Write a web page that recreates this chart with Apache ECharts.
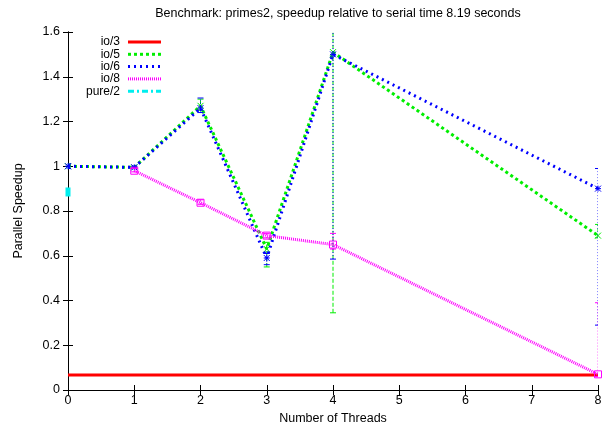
<!DOCTYPE html>
<html>
<head>
<meta charset="utf-8">
<script src="https://cdn.jsdelivr.net/npm/echarts@6/dist/echarts.min.js"></script>
<style>
  html, body { margin: 0; padding: 0; background: #fff; }
  #chart { width: 606px; height: 425px; }
</style>
</head>
<body>
<div id="chart"></div>
<script>
// Thread counts measured
const threads = [0, 1, 2, 3, 4, 8];
const threads8 = [1, 2, 3, 4, 8];

// Speedup per configuration (mean) with low/high error range
const io3 = [0.067, 0.067, 0.067, 0.067, 0.067, 0.067];

const io5 = [1.0, 0.995, 1.27, 0.63, 1.51, 0.69];
const io5Low = [0.99, 0.99, 1.25, 0.55, 0.345, 0.68];
const io5High = [1.01, 1.0, 1.30, 0.66, 1.65, 0.74];

const io6 = [1.0, 0.995, 1.26, 0.59, 1.50, 0.90];
const io6Low = [0.99, 0.99, 1.24, 0.56, 0.585, 0.29];
const io6High = [1.01, 1.0, 1.305, 0.61, 1.65, 0.99];

const io8 = [0.98, 0.837, 0.69, 0.65, 0.07];
const io8Low = [0.975, 0.83, 0.68, 0.63, 0.06];
const io8High = [0.99, 0.85, 0.70, 0.70, 0.39];

const pureThreads = [0];
const pure2 = [0.885];

const xTicks = [0, 1, 2, 3, 4, 5, 6, 7, 8];
const yTicks = [0, 0.2, 0.4, 0.6, 0.8, 1, 1.2, 1.4, 1.6];

const FONT = 'Liberation Sans, Arial, sans-serif';
const FS = 12.5;

const styles = {
  'io/3':   { color: '#ff0000', dash: 'solid',      width: 3 },
  'io/5':   { color: '#00ee00', dash: [3, 3],       width: 3 },
  'io/6':   { color: '#0000ff', dash: [2, 4],       width: 3 },
  'io/8':   { color: '#ff00ff', dash: [1, 1],       width: 3 },
  'pure/2': { color: '#00eeee', dash: [6, 3, 2, 3], width: 3 }
};

function pairs(xs, ys) { return xs.map((x, i) => [x, ys[i]]); }

const crossPath = 'path://M0,0L10,10M10,0L0,10';
const starPath = 'path://M0,0L10,10M10,0L0,10M5,0L5,10M0,5L10,5';

function lineSeries(name, xs, ys, symbol, symbolSize, z) {
  const s = styles[name];
  const hollow = symbol !== 'rect' || name === 'io/8';
  return {
    name, type: 'line', data: pairs(xs, ys), z,
    symbol, symbolSize,
    showSymbol: symbol !== 'none',
    lineStyle: { color: s.color, width: s.width, type: s.dash },
    itemStyle: hollow
      ? { color: 'rgba(0,0,0,0)', borderColor: s.color, borderWidth: 1 }
      : { color: s.color, borderWidth: 0 },
    emphasis: { disabled: true },
    animation: false
  };
}

function errorSeries(name, xs, low, high, z) {
  const s = styles[name];
  return {
    type: 'custom', z, clip: true, animation: false, silent: true,
    data: xs.map((t, i) => [t, low[i], high[i]]),
    encode: { x: 0, y: [1, 2] },
    renderItem(params, api) {
      const lo = api.coord([api.value(0), api.value(1)]);
      const hi = api.coord([api.value(0), api.value(2)]);
      const hw = 3;
      const style = { stroke: s.color, lineWidth: 1, lineDash: name === 'io/5' ? [4, 2] : [1, 2] };
      return {
        type: 'group',
        children: [
          { type: 'line', shape: { x1: lo[0], y1: lo[1], x2: hi[0], y2: hi[1] }, style },
          { type: 'line', shape: { x1: lo[0] - hw, y1: lo[1], x2: lo[0] + hw, y2: lo[1] }, style: { stroke: s.color, lineWidth: 1 } },
          { type: 'line', shape: { x1: hi[0] - hw, y1: hi[1], x2: hi[0] + hw, y2: hi[1] }, style: { stroke: s.color, lineWidth: 1 } }
        ]
      };
    }
  };
}

// Key drawn in the top-left corner of the plot: right-aligned labels, line samples
const legendNames = ['io/3', 'io/5', 'io/6', 'io/8', 'pure/2'];
const legendGraphics = [];
legendNames.forEach((n, i) => {
  const y = 42 + i * 12.3;
  const s = styles[n];
  legendGraphics.push({
    type: 'text', x: 120, y: y,
    style: { text: n, font: '12px ' + FONT, fill: '#000', textAlign: 'right', textVerticalAlign: 'middle' }
  });
  legendGraphics.push({
    type: 'line', shape: { x1: 128, y1: y, x2: 161, y2: y },
    style: { stroke: s.color, lineWidth: s.width, lineDash: s.dash === 'solid' ? null : s.dash }
  });
});

const axisCommon = {
  type: 'value', min: 0,
  axisLine: { show: true, lineStyle: { color: '#000', width: 1 } },
  axisTick: { show: true, inside: true, length: 5, lineStyle: { color: '#000' } },
  splitLine: { show: false }
};

const chart = echarts.init(document.getElementById('chart'), null, { renderer: 'canvas' });
chart.setOption({
  backgroundColor: '#fff',
  animation: false,
  textStyle: { fontFamily: FONT },
  title: {
    text: 'Benchmark: primes2, speedup relative to serial time 8.19 seconds',
    left: 333, top: 2, textAlign: 'center',
    textStyle: { fontSize: FS, fontWeight: 'normal', color: '#000', fontFamily: FONT }
  },
  grid: { left: 68, right: 8, top: 32, bottom: 35, containLabel: false, outerBoundsMode: 'none' },
  xAxis: [
    Object.assign({}, axisCommon, {
      max: xTicks[xTicks.length - 1], interval: 1,
      name: 'Number of Threads', nameLocation: 'middle', nameGap: 14,
      nameTextStyle: { fontSize: FS, color: '#000', fontFamily: FONT },
      axisLabel: { fontSize: FS, color: '#000', margin: 4, fontFamily: FONT }
    }),
    Object.assign({}, axisCommon, {
      position: 'top', max: 8, interval: 1, axisLabel: { show: false }
    })
  ],
  yAxis: [
    Object.assign({}, axisCommon, {
      max: yTicks[yTicks.length - 1], interval: 0.2,
      name: 'Parallel Speedup', nameLocation: 'middle', nameGap: 43,
      nameTextStyle: { fontSize: FS, color: '#000', fontFamily: FONT },
      axisLabel: { fontSize: FS, color: '#000', margin: 8, fontFamily: FONT }
    }),
    Object.assign({}, axisCommon, {
      position: 'right', max: 1.6, interval: 0.2, axisLabel: { show: false }
    })
  ],
  graphic: legendGraphics,
  series: [
    lineSeries('io/3', threads, io3, 'none', 0, 2),
    errorSeries('io/5', threads, io5Low, io5High, 3),
    lineSeries('io/5', threads, io5, crossPath, 6, 3),
    errorSeries('io/6', threads, io6Low, io6High, 4),
    lineSeries('io/6', threads, io6, starPath, 6, 4),
    errorSeries('io/8', threads8, io8Low, io8High, 5),
    lineSeries('io/8', threads8, io8, 'rect', 7, 5),
    lineSeries('pure/2', pureThreads, pure2, 'rect', [5, 9], 6)
  ]
});
</script>
</body>
</html>
